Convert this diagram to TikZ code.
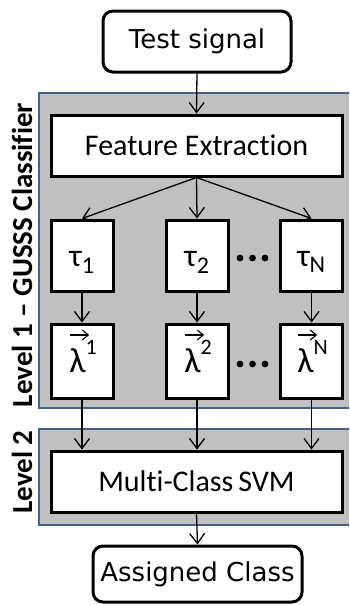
\documentclass[tikz,border=0pt]{standalone}
\usepackage{fontspec}
\setmainfont{Carlito}[Ligatures={NoCommon}]
\newfontfamily\dejavu{DejaVu Sans}
\usetikzlibrary{arrows.meta}
\definecolor{panelfill}{HTML}{C0C0C0}
\definecolor{panelline}{HTML}{41648F}
\newcommand{\vlam}[1]{λ\raisebox{18pt}{\fontsize{22}{22}\selectfont #1}}
\tikzset{
  panel/.style={fill=panelfill, draw=panelline, line width=2.5pt},
  box/.style={draw=black, fill=white, line width=3pt, inner sep=0pt, font=\fontsize{30}{30}\selectfont},
  rbox/.style={box, rounded corners=10pt, font=\dejavu\fontsize{26}{26}\selectfont},
  conn/.style={line width=1.3pt, -{Straight Barb[length=10pt,width=15pt,line width=1.3pt]}},
  vecarrow/.style={line width=1.1pt, -{Straight Barb[length=6pt,width=10pt,line width=1.1pt]}},
  lvl/.style={rotate=90, font=\bfseries\fontsize{29}{29}\selectfont, inner sep=0pt},
  dot/.style={fill=black, draw=none},
  sym/.style={inner sep=0pt, font=\fontsize{32}{32}\selectfont},
  lsym/.style={inner sep=0pt, font=\fontsize{35}{35}\selectfont}
}
\begin{document}
\begin{tikzpicture}[x=1pt,y=-1pt]
\useasboundingbox (0,0) rectangle (349,605);
\clip (0,0) rectangle (349,605);
\path[panel] (39,93) rectangle (360,408);
\path[panel] (39,429) rectangle (360,525);
\node[lvl] (l1) at (22,255) {Level 1 -- GUSSS Classifier};
\node[lvl] (l2) at (22,472) {Level 2};
\node[rbox, minimum width=188pt, minimum height=61pt] (ts) at (197,41.5) {Test signal};
\node[box, minimum width=291pt, minimum height=61pt] (fe) at (196.5,145.5) {Feature Extraction};
\foreach \n/\x in {1/82,2/197,3/311.5}{
  \node[box, minimum width=62pt, minimum height=71pt] (t\n) at (\x,255.5) {};
  \node[box, minimum width=62pt, minimum height=74pt] (v\n) at (\x,361) {};
}
\node[sym] (tt1) at (82,262) {τ\textsubscript{\fontsize{24}{24}\selectfont 1}};
\node[sym] (tt2) at (197,262) {τ\textsubscript{\fontsize{24}{24}\selectfont 2}};
\node[sym] (tt3) at (311.5,262) {τ\textsubscript{\fontsize{24}{24}\selectfont N}};
\node[lsym, anchor=base] (ll1) at (83,372) {\vlam{1}};
\node[lsym, anchor=base] (ll2) at (198,372) {\vlam{2}};
\node[lsym, anchor=base] (ll3) at (312.5,372) {\vlam{N}};
\foreach \n in {1,2,3}{
  \draw[vecarrow] ([xshift=1pt,yshift=37pt]ll\n.base west) -- ++(19,0);
}
\foreach \x in {240,252.5,265}{
  \fill[dot] (\x,258) circle (3.4pt);
  \fill[dot] (\x,364) circle (3.4pt);
}
\node[box, minimum width=291pt, minimum height=61pt] (svm) at (196.5,481.5) {Multi-Class\,SVM};
\node[rbox, minimum width=209pt, minimum height=56pt] (ac) at (197.5,574) {Assigned Class};
\draw[conn] (ts.south) -- (fe.north);
\foreach \n in {1,2,3}{
  \draw[conn] (fe.south) -- (t\n.north);
  \draw[conn] (t\n.south) -- (v\n.north);
  \draw[conn] (v\n.south) -- (v\n.south |- svm.north);
}
\draw[conn] (svm.south) -- (ac.north);
\end{tikzpicture}
\end{document}
